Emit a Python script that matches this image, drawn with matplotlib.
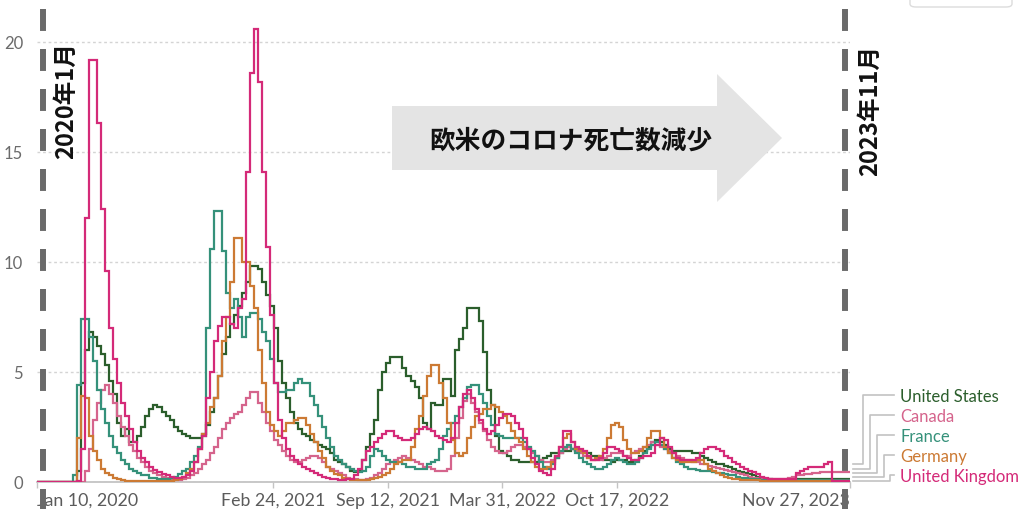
import matplotlib
matplotlib.use("Agg")
import matplotlib.pyplot as plt
import matplotlib.dates as mdates
from matplotlib.lines import Line2D
from matplotlib.patches import Polygon, FancyBboxPatch
import pandas as pd

plt.rcParams['font.family'] = ['Lato', 'Noto Sans CJK JP', 'DejaVu Sans']
plt.rcParams['lines.scale_dashes'] = False

# weekly deaths per million, first week starts Jan 10, 2020
start_date = "2020-01-10"
end_date = "2023-11-27"
countries = ["United States", "Canada", "France", "Germany", "United Kingdom"]
colors = ["#2b5e2c", "#d5648c", "#35917a", "#cc7a34", "#d42a78"]
tick_dates = ["2020-01-10", "2021-02-24", "2021-09-12", "2022-03-31", "2022-10-17", "2023-11-27"]
tick_labels = ["Jan 10, 2020", "Feb 24, 2021", "Sep 12, 2021", "Mar 31, 2022", "Oct 17, 2022", "Nov 27, 2023"]
y_ticks = [0, 5, 10, 15, 20]

us = [0, 0, 0, 0, 0, 0, 0, 0, 0, 0,
      0.5, 4.5, 6.0, 6.8, 6.6, 6.2, 5.8, 5.3, 4.6, 4.0,
      2.7, 2.1, 2.4, 1.8, 1.8, 2.1, 2.5, 3.0, 3.3, 3.5,
      3.4, 3.2, 3.0, 2.8, 2.5, 2.3, 2.2, 2.1, 2.0, 2.0,
      2.0, 2.2, 2.6, 3.2, 3.8, 4.8, 5.8, 6.6, 7.2, 7.6,
      8.0, 8.6, 9.1, 9.8, 9.8, 9.7, 9.1, 8.5, 8.0, 7.0,
      5.5, 4.5, 3.8, 3.2, 2.7, 2.4, 2.2, 2.1, 1.9, 1.8,
      1.7, 1.6, 1.5, 1.3, 1.0, 0.9, 0.8, 0.7, 0.5, 0.45,
      0.5, 1.0, 1.6, 2.2, 2.8, 4.2, 5.0, 5.4, 5.7, 5.7,
      5.7, 5.2, 4.8, 4.6, 4.3, 3.8, 2.7, 2.4, 3.6, 3.5,
      3.5, 4.7, 4.7, 3.9, 6.0, 6.5, 7.0, 7.9, 7.9, 7.9,
      7.3, 5.9, 4.2, 3.5, 2.1, 1.4, 1.3, 1.2, 1.0, 1.0,
      0.9, 0.9, 0.9, 0.9, 0.9, 1.0, 1.1, 1.2, 1.3, 1.3,
      1.3, 1.4, 1.4, 1.5, 1.4, 1.4, 1.3, 1.3, 1.2, 1.2,
      1.1, 1.0, 1.0, 0.9, 1.0, 1.0, 1.0, 0.9, 0.9, 1.0,
      1.2, 1.4, 1.6, 1.8, 1.9, 1.8, 1.7, 1.5, 1.4, 1.4,
      1.4, 1.4, 1.4, 1.3, 1.3, 1.2, 1.1, 1.0, 0.9, 0.8,
      0.8, 0.75, 0.7, 0.6, 0.5, 0.45, 0.4, 0.35, 0.3, 0.25,
      0.2, 0.15, 0.12, 0.1, 0.1, 0.1, 0.1, 0.1, 0.12, 0.15,
      0.15, 0.15, 0.15, 0.15, 0.15, 0.15, 0.15, 0.15, 0.15, 0.15,
      0.15, 0.15, 0.15]

canada = [0, 0, 0, 0, 0, 0, 0, 0, 0, 0,
          0, 0, 0.5, 1.5, 2.8, 3.6, 4.2, 4.4, 4.0, 3.6,
          3.0, 2.5, 2.1, 1.7, 1.4, 1.1, 0.9, 0.7, 0.5, 0.4,
          0.3, 0.25, 0.2, 0.15, 0.1, 0.1, 0.15, 0.2, 0.3, 0.4,
          0.6, 0.8, 1.0, 1.3, 1.6, 2.0, 2.4, 2.7, 2.9, 3.1,
          3.2, 3.5, 3.8, 4.1, 4.1, 3.6, 3.2, 2.7, 2.3, 1.9,
          1.7, 1.4, 1.2, 1.0, 0.9, 0.9, 1.0, 1.1, 1.2, 1.2,
          1.1, 0.9, 0.7, 0.6, 0.5, 0.4, 0.3, 0.2, 0.15, 0.12,
          0.1, 0.1, 0.15, 0.2, 0.3, 0.4, 0.6, 0.8, 0.9, 1.0,
          1.1, 1.2, 1.1, 1.0, 0.9, 0.8, 0.7, 0.7, 0.6, 0.5,
          0.5, 0.5, 0.6, 1.2, 2.0, 2.9, 3.7, 4.0, 3.6, 3.2,
          2.7, 2.3, 1.9, 1.6, 1.4, 1.3, 1.3, 1.4, 1.6, 1.7,
          1.7, 1.6, 1.5, 1.3, 1.2, 1.0, 0.9, 0.9, 1.0, 1.1,
          1.3, 1.5, 1.6, 1.5, 1.4, 1.3, 1.2, 1.1, 1.0, 1.0,
          1.0, 1.1, 1.2, 1.3, 1.3, 1.3, 1.2, 1.2, 1.3, 1.4,
          1.5, 1.6, 1.7, 1.8, 1.7, 1.6, 1.5, 1.4, 1.3, 1.2,
          1.1, 1.0, 1.0, 0.9, 0.9, 0.8, 0.8, 0.75, 0.7, 0.65,
          0.6, 0.55, 0.5, 0.45, 0.4, 0.35, 0.3, 0.25, 0.2, 0.2,
          0.15, 0.15, 0.15, 0.15, 0.15, 0.15, 0.15, 0.2, 0.25, 0.3,
          0.3, 0.35, 0.35, 0.4, 0.4, 0.45, 0.45, 0.45, 0.45, 0.45,
          0.45, 0.45, 0.45]

france = [0, 0, 0, 0, 0, 0, 0, 0, 0, 0.3,
          4.4, 7.4, 7.4, 6.6, 5.5, 4.2, 3.3, 2.7, 2.1, 1.6,
          1.3, 1.0, 0.8, 0.6, 0.5, 0.4, 0.3, 0.3, 0.2, 0.2,
          0.15, 0.15, 0.15, 0.2, 0.25, 0.35, 0.5, 0.6, 0.9, 1.2,
          1.6, 2.1, 7.0, 10.6, 12.3, 12.3, 10.5, 8.6, 7.9, 8.3,
          7.5, 6.6, 7.5, 7.7, 7.7, 7.4, 6.8, 6.4, 5.6, 4.5,
          4.1, 4.1, 4.2, 4.2, 4.5, 4.7, 4.5, 4.5, 3.9, 3.5,
          3.0, 2.5, 2.0, 1.6, 1.2, 1.0, 0.8, 0.7, 0.6, 0.5,
          0.45, 0.5, 0.7, 1.2, 1.5, 1.4, 1.2, 1.0, 0.9, 0.9,
          0.9, 0.8, 0.7, 0.7, 0.6, 0.6, 0.6, 0.8, 0.9, 1.0,
          1.5, 2.1, 2.4, 2.7, 3.0, 3.4, 3.8, 4.3, 4.4, 4.4,
          4.0, 3.6, 3.0, 2.6, 2.2, 2.1, 2.0, 2.0, 2.0, 2.0,
          2.0, 1.8, 1.6, 1.4, 1.2, 0.9, 0.7, 0.6, 0.8, 1.1,
          1.4, 1.6, 1.7, 1.5, 1.3, 1.1, 0.9, 0.8, 0.7, 0.6,
          0.6, 0.7, 0.8, 1.0, 1.1, 1.0, 0.9, 0.8, 0.8, 0.9,
          1.1, 1.3, 1.5, 1.7, 1.8, 1.7, 1.5, 1.3, 1.1, 0.9,
          0.8, 0.7, 0.6, 0.6, 0.55, 0.5, 0.5, 0.5, 0.45, 0.4,
          0.4, 0.35, 0.3, 0.3, 0.25, 0.2, 0.2, 0.15, 0.15, 0.12,
          0.1, 0.1, 0.1, 0.1, 0.1, 0.1, 0.1, 0.1, 0.1, 0.1,
          0.1, 0.1, 0.1, 0.1, 0.1, 0.1, 0.1, 0.1, 0.1, 0.1,
          0.1, 0.1, 0.1]

germany = [0, 0, 0, 0, 0, 0, 0, 0, 0, 0,
           2.0, 3.9, 3.8, 2.1, 1.4, 1.0, 0.6, 0.4, 0.3, 0.2,
           0.15, 0.1, 0.05, 0.05, 0.05, 0.05, 0.05, 0.05, 0.05, 0.05,
           0.05, 0.05, 0.05, 0.05, 0.1, 0.15, 0.25, 0.4, 0.6, 0.9,
           1.5, 2.2, 2.7, 3.4, 3.8, 4.8, 6.4, 7.5, 9.1, 11.1,
           11.1, 10.0, 10.0, 8.9, 7.9, 6.0, 4.5, 3.2, 2.6, 2.3,
           2.1, 2.3, 2.7, 2.7, 2.8, 2.9, 2.9, 2.6, 2.2, 1.8,
           1.4, 1.1, 0.7, 0.5, 0.35, 0.3, 0.2, 0.15, 0.1, 0.1,
           0.1, 0.1, 0.1, 0.15, 0.2, 0.25, 0.3, 0.4, 0.6, 0.8,
           0.9, 1.0, 1.0, 1.6, 2.4, 3.0, 3.9, 4.8, 5.3, 5.3,
           4.5, 3.8, 2.7, 1.9, 1.3, 1.2, 1.3, 2.0, 2.5, 3.0,
           3.1, 3.3, 3.3, 3.5, 3.4, 3.2, 3.0, 2.7, 2.3, 2.0,
           1.8, 1.5, 1.2, 0.9, 0.7, 0.6, 0.6, 0.7, 0.9, 1.2,
           1.6, 2.0, 2.2, 1.8, 1.5, 1.4, 1.3, 1.1, 1.0, 1.1,
           1.2, 1.5, 2.0, 2.6, 2.7, 2.5, 1.9, 1.5, 1.3, 1.3,
           1.4, 1.6, 2.0, 2.3, 2.3, 2.0, 1.6, 1.3, 1.1, 1.0,
           0.9, 0.9, 0.9, 0.9, 1.0, 1.0, 0.8, 0.6, 0.5, 0.4,
           0.3, 0.25, 0.2, 0.15, 0.12, 0.1, 0.1, 0.1, 0.08, 0.08,
           0.05, 0.05, 0.05, 0.05, 0.05, 0.05, 0.05, 0.05, 0.05, 0.05,
           0.05, 0.05, 0.05, 0.05, 0.05, 0.05, 0.05, 0.05, 0.05, 0.05,
           0.05, 0.05, 0.05]

uk = [0, 0, 0, 0, 0, 0, 0, 0, 0, 0,
      0.05, 1.5, 12.0, 19.2, 19.2, 16.3, 12.4, 9.6, 7.0, 5.6,
      4.5, 3.6, 3.0, 2.4, 1.8, 1.4, 1.1, 0.9, 0.7, 0.55,
      0.45, 0.35, 0.3, 0.25, 0.2, 0.2, 0.25, 0.3, 0.5, 0.9,
      1.5, 2.1, 3.8, 5.0, 6.4, 7.1, 7.5, 7.5, 7.2, 7.0,
      7.9, 8.3, 14.1, 18.6, 20.6, 18.2, 14.1, 10.7, 7.6, 4.5,
      2.8, 2.0, 1.5, 1.2, 1.0, 0.8, 0.7, 0.6, 0.5, 0.4,
      0.3, 0.25, 0.2, 0.15, 0.12, 0.1, 0.1, 0.12, 0.15, 0.3,
      0.6, 1.0, 1.4, 1.6, 1.8, 2.0, 2.2, 2.3, 2.3, 2.1,
      2.0, 1.9, 1.9, 2.0, 2.2, 2.4, 2.5, 2.4, 2.3, 2.1,
      2.0, 1.9, 1.8, 2.0, 2.7, 3.4, 4.0, 4.2, 3.8, 3.3,
      2.8, 2.4, 2.2, 2.3, 2.6, 2.9, 3.1, 3.1, 3.0, 2.7,
      2.4, 2.0, 1.5, 1.1, 0.8, 0.5, 0.4, 0.3, 0.6, 1.2,
      1.6, 2.3, 2.3, 1.8, 1.6, 1.5, 1.4, 1.2, 1.0, 1.0,
      1.1, 1.3, 1.6, 1.6, 1.5, 1.4, 1.2, 1.1, 1.0, 1.0,
      1.1, 1.2, 1.2, 1.3, 1.7, 2.0, 1.9, 1.6, 1.3, 1.1,
      1.0, 1.0, 1.0, 1.0, 1.1, 1.3, 1.5, 1.6, 1.6, 1.5,
      1.4, 1.2, 1.1, 0.9, 0.8, 0.7, 0.6, 0.5, 0.45, 0.35,
      0.25, 0.2, 0.15, 0.15, 0.15, 0.15, 0.15, 0.15, 0.15, 0.4,
      0.5, 0.6, 0.7, 0.7, 0.7, 0.7, 0.8, 0.9, 0.05, 0.05,
      0.05, 0.05, 0.05]

series = [us, canada, france, germany, uk]

W, H = 1018, 510


def fx(px):
    return px / W


def fy(py):
    return 1 - py / H


fig = plt.figure(figsize=(W / 100, H / 100), dpi=100)
ax = fig.add_axes([fx(37), fy(483), (850 - 37) / W, 483 / H])

end_num = mdates.date2num(pd.Timestamp(end_date))
for name, vals, c in zip(countries, series, colors):
    weeks = pd.date_range(start_date, periods=len(vals), freq="7D")
    edges = list(mdates.date2num(weeks)) + [end_num]
    ax.stairs(vals, edges, color=c, lw=1.6, baseline=None, zorder=3)

ax.set_xlim(mdates.date2num(pd.Timestamp(start_date)), end_num)
ax.set_ylim(0, 483 / 22)
ax.set_xticks(mdates.date2num(pd.to_datetime(tick_dates)))
ax.set_xticklabels(tick_labels)
xl = ax.get_xticklabels()
xl[0].set_ha("left")
xl[-1].set_ha("right")
ax.set_yticks(y_ticks)
ax.set_yticklabels([str(v) for v in y_ticks])

for s in ["top", "right", "left"]:
    ax.spines[s].set_visible(False)
ax.spines["bottom"].set_color("#c4c4c4")
ax.spines["bottom"].set_linewidth(1.3)
ax.tick_params(axis="x", length=4, width=1, color="#c4c4c4", labelsize=12.8,
               labelcolor="#5b5b5b", pad=3)
ax.tick_params(axis="y", length=0, labelsize=12, labelcolor="#6b6b6b", pad=10)
ax.grid(axis="y", color="#d4d4d4", linestyle=(0, (2, 2)), linewidth=1)
ax.set_axisbelow(True)

# direction arrow with caption
arrow_px = [(392, 107), (717, 107), (717, 75), (782, 139), (717, 203), (717, 171), (392, 171)]
fig.add_artist(Polygon([(fx(x), fy(y)) for x, y in arrow_px], closed=True,
                       transform=fig.transFigure, facecolor="#e4e4e4",
                       edgecolor="none", zorder=5))
fig.text(fx(571), fy(141), "欧米のコロナ死亡数減少", fontsize=18.5, fontweight="bold",
         ha="center", va="center", color="#111111", zorder=6,
         family=["Noto Sans CJK JP", "DejaVu Sans"])

# period markers
for xp in (43, 845):
    fig.add_artist(Line2D([fx(xp), fx(xp)], [fy(10), fy(512)], transform=fig.transFigure,
                          color="#6a6a6a", lw=4.3, linestyle=(0, (15.8, 13)),
                          dash_capstyle="butt", zorder=10))
fig.text(fx(66), fy(101), "2020年1月", rotation=90, fontsize=17, fontweight="bold",
         ha="center", va="center", color="#111111", zorder=11,
         family=["Noto Sans CJK JP", "DejaVu Sans"])
fig.text(fx(870), fy(110), "2023年11月", rotation=90, fontsize=17, fontweight="bold",
         ha="center", va="center", color="#111111", zorder=11,
         family=["Noto Sans CJK JP", "DejaVu Sans"])

# line labels with connectors
label_y = [397, 417, 437, 457, 477]
conn_x = [863, 870, 877, 884, 890]
conn_bottom = [465, 470, 474, 478, 482]
for name, c, ly, cx, cb in zip(countries, colors, label_y, conn_x, conn_bottom):
    fig.text(fx(900), fy(ly), name, color=c, fontsize=12, ha="left", va="center")
    pts = [(853, cb), (cx, cb), (cx, ly - 1), (894, ly - 1)]
    fig.add_artist(Line2D([fx(p[0]) for p in pts], [fy(p[1]) for p in pts],
                          transform=fig.transFigure, color="#c2c2c2", lw=1.2, zorder=4))

# small rounded box at top right
fig.add_artist(FancyBboxPatch((fx(910), fy(8)), (1012 - 910) / W, 20 / H,
                              boxstyle="round,pad=0,rounding_size=0.006",
                              transform=fig.transFigure, facecolor="white",
                              edgecolor="#dcdcdc", lw=1, zorder=4))

fig.savefig("out.png", dpi=100)
